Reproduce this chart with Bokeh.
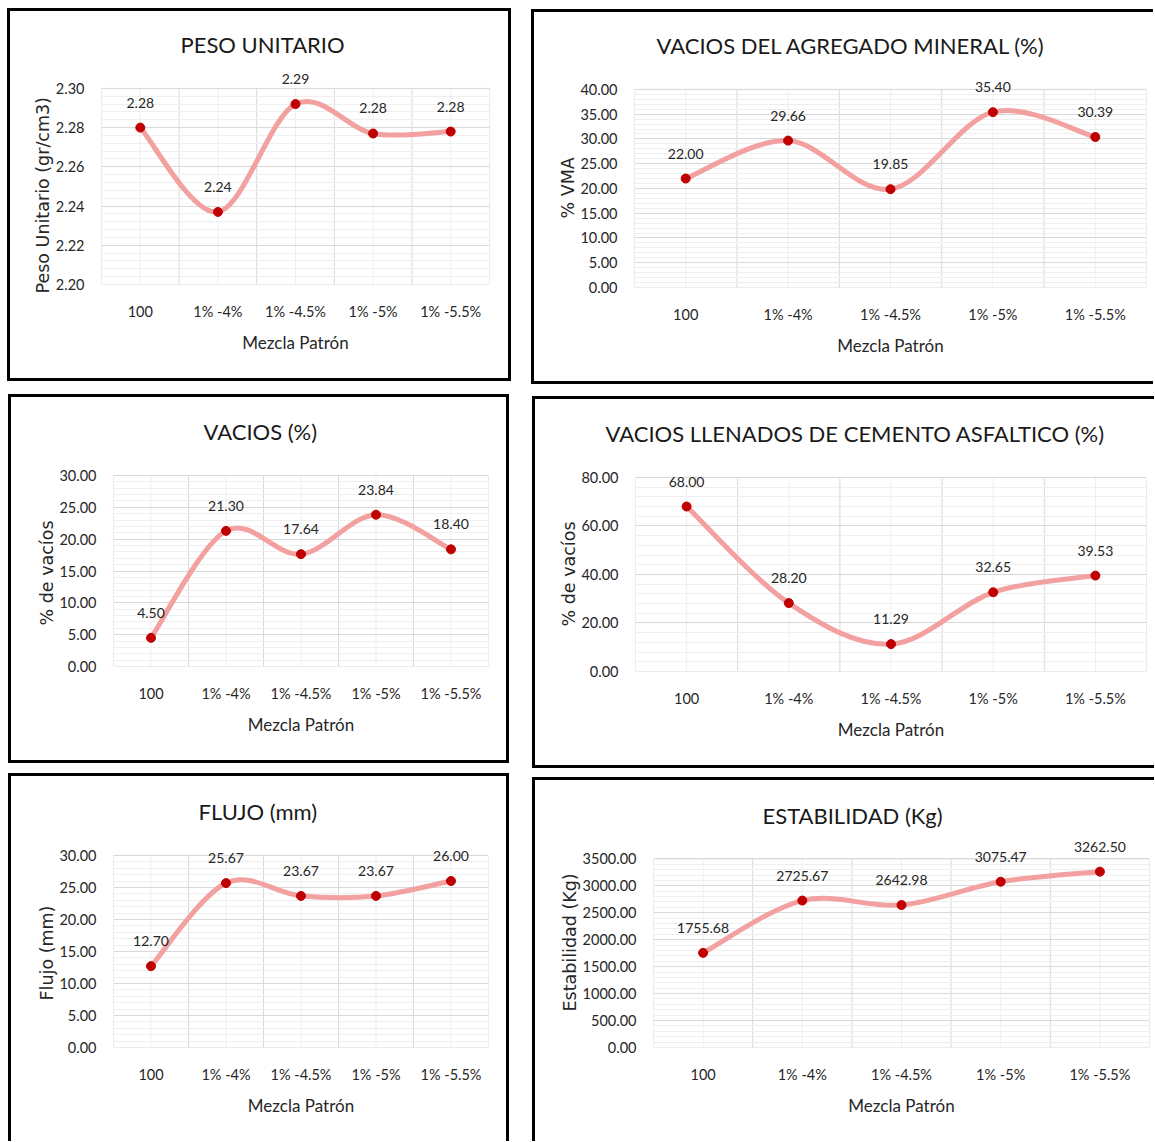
import numpy as np
from bokeh.plotting import figure
from bokeh.layouts import column, row
from bokeh.models import (Range1d, FixedTicker, PrintfTickFormatter, LabelSet,
                          ColumnDataSource, Title)
from bokeh.embed import file_html
from bokeh.resources import INLINE
from bokeh.core.properties import value

# ---------------- data ----------------
categories = ["100", "1% -4%", "1% -4.5%", "1% -5%", "1% -5.5%"]
x_label = "Mezcla Patrón"

titles = ["PESO UNITARIO", "VACIOS DEL AGREGADO MINERAL (%)", "VACIOS (%)",
          "VACIOS LLENADOS DE CEMENTO ASFALTICO (%)", "FLUJO (mm)", "ESTABILIDAD (Kg)"]
y_labels = ["Peso Unitario (gr/cm3)", "% VMA", "% de vacíos", "% de vacíos",
            "Flujo (mm)", "Estabilidad (Kg)"]

peso_unitario = [2.280, 2.237, 2.292, 2.277, 2.278]
vma = [22.00, 29.66, 19.85, 35.40, 30.39]
vacios = [4.50, 21.30, 17.64, 23.84, 18.40]
vfa = [68.00, 28.20, 11.29, 32.65, 39.53]
flujo = [12.70, 25.67, 23.67, 23.67, 26.00]
estabilidad = [1755.68, 2725.67, 2642.98, 3075.47, 3262.50]

y_min = [2.20, 0, 0, 0, 0, 0]
y_max = [2.30, 40, 30, 80, 30, 3500]
y_step = [0.02, 5, 5, 20, 5, 500]

series = [peso_unitario, vma, vacios, vfa, flujo, estabilidad]

# ---------------- style ----------------
NARROW = "Lato"
WIDE = "DejaVu Sans"
LINE_COLOR = "#F2A0A0"
MARK_COLOR = "#C00000"
TEXT_COLOR = "#262626"
GRID_MAJOR = "#D9D9D9"
GRID_MINOR = "#EFEFEF"
HEADROOM = 24   # px of free space above the plot area, so data labels can sit above it

# panel geometry: width, height, margin(top,right,bottom,left), plot-area borders (l, r, t, b),
# title offset from plot-area left, y-label offset from plot-area bottom, border sides
panels = [
    dict(w=504, h=373, m=(8, 0, 0, 7), b=(94, 22, 79, 97), off=79, yoff=-9, sides="ltrb"),
    dict(w=622, h=375, m=(9, 0, 0, 20), b=(103, 7, 80, 96), off=22, yoff=69, sides="ltb"),
    dict(w=501, h=369, m=(10, 0, 0, 8), b=(105, 21, 81, 97), off=90, yoff=41, sides="ltrb"),
    dict(w=622, h=372, m=(12, 0, 0, 23), b=(103, 8, 81, 96), off=-30, yoff=45, sides="ltb"),
    dict(w=501, h=368, m=(5, 0, 0, 8), b=(105, 21, 81, 94), off=85, yoff=47, sides="ltr"),
    dict(w=622, h=364, m=(9, 0, 0, 23), b=(121, 5, 82, 88), off=109, yoff=36, sides="lt"),
]


def bezier_controls(xs, ys):
    n = len(xs)
    out = {k: [] for k in ("x0", "y0", "x1", "y1", "cx0", "cy0", "cx1", "cy1")}
    for i in range(n - 1):
        xm, ym = (xs[i - 1], ys[i - 1]) if i > 0 else (xs[i], ys[i])
        xp, yp = (xs[i + 2], ys[i + 2]) if i + 2 < n else (xs[i + 1], ys[i + 1])
        out["x0"].append(xs[i]); out["y0"].append(ys[i])
        out["x1"].append(xs[i + 1]); out["y1"].append(ys[i + 1])
        out["cx0"].append(xs[i] + (xs[i + 1] - xm) / 6.0)
        out["cy0"].append(ys[i] + (ys[i + 1] - ym) / 6.0)
        out["cx1"].append(xs[i + 1] - (xp - xs[i]) / 6.0)
        out["cy1"].append(ys[i + 1] - (yp - ys[i]) / 6.0)
    return out


def shadow(sides):
    parts = []
    if "l" in sides: parts.append("inset 3px 0 0 0 #000")
    if "r" in sides: parts.append("inset -3px 0 0 0 #000")
    if "t" in sides: parts.append("inset 0 3px 0 0 #000")
    if "b" in sides: parts.append("inset 0 -3px 0 0 #000")
    return ", ".join(parts)


figs = []
for k in range(6):
    g = panels[k]
    vals = series[k]
    n = len(categories)
    xs = list(range(1, n + 1))
    lo, hi, st = y_min[k], y_max[k], y_step[k]
    nmaj = int(round((hi - lo) / st))
    major = [round(lo + i * st, 6) for i in range(nmaj + 1)]
    minor = [round(lo + i * st / 5.0, 6) for i in range(nmaj * 5 + 1)]

    bl, br, bt, bb = g["b"]
    area_h = g["h"] - bt - bb
    top_end = hi + (hi - lo) * HEADROOM / area_h

    p = figure(width=g["w"], height=g["h"], output_backend="svg", toolbar_location=None,
               x_range=Range1d(0.5, n + 0.5), y_range=Range1d(lo, top_end),
               min_border_left=bl, min_border_right=br,
               min_border_top=bt - HEADROOM, min_border_bottom=bb,
               title=titles[k])
    p.margin = g["m"]
    p.styles = {"box-shadow": shadow(g["sides"])}
    p.border_fill_color = None
    p.background_fill_color = None
    p.outline_line_color = None

    p.title.text_font = NARROW
    p.title.text_font_size = "22px"
    p.title.text_font_style = "normal"
    p.title.text_color = "#1A1A1A"
    p.title.align = "left"
    p.title.offset = g["off"]
    p.title.standoff = 14

    # axes
    xa = p.xaxis[0]
    xa.ticker = FixedTicker(ticks=xs)
    xa.major_label_overrides = {x: c for x, c in zip(xs, categories)}
    xa.axis_label = x_label
    ya = p.yaxis[0]
    ya.ticker = FixedTicker(ticks=major)
    ya.formatter = PrintfTickFormatter(format="%.2f")
    for ax in (xa, ya):
        ax.axis_line_color = None
        ax.major_tick_line_color = None
        ax.minor_tick_line_color = None
        ax.major_label_text_font = NARROW
        ax.major_label_text_font_size = "14.5px"
        ax.major_label_text_color = TEXT_COLOR
        ax.axis_label_text_font_style = "normal"
        ax.axis_label_text_color = TEXT_COLOR
    xa.major_label_standoff = 12
    xa.axis_label_text_font = NARROW
    xa.axis_label_text_font_size = "17px"
    xa.axis_label_standoff = 9
    ya.major_label_standoff = 11

    # vertical axis title, placed along the plot area like Excel does
    p.add_layout(Title(text=y_labels[k], align="left", offset=g["yoff"], standoff=0,
                       text_font=WIDE, text_font_size="17.5px", text_font_style="normal",
                       text_color=TEXT_COLOR), "left")

    # grids: horizontal from the library, vertical limited to the plot area
    p.xgrid.visible = False
    yg = p.ygrid[0]
    yg.ticker = FixedTicker(ticks=major, minor_ticks=minor)
    yg.grid_line_color = GRID_MAJOR
    yg.minor_grid_line_color = GRID_MINOR
    centers = xs
    bounds_x = [x + 0.5 for x in xs[:-1]]
    p.segment(x0=centers, x1=centers, y0=[lo] * n, y1=[hi] * n,
              line_color=GRID_MINOR, line_width=1, level="underlay")
    p.segment(x0=bounds_x, x1=bounds_x, y0=[lo] * len(bounds_x), y1=[hi] * len(bounds_x),
              line_color=GRID_MAJOR, line_width=1, level="underlay")
    p.quad(left=[0.5], right=[n + 0.5], bottom=[lo], top=[hi],
           fill_color=None, line_color=GRID_MAJOR, line_width=1, level="underlay")

    # smooth line (Excel-like smoothed line through the data points)
    bz = bezier_controls(xs, vals)
    p.bezier(x0=bz["x0"], y0=bz["y0"], x1=bz["x1"], y1=bz["y1"],
             cx0=bz["cx0"], cy0=bz["cy0"], cx1=bz["cx1"], cy1=bz["cy1"],
             line_color=LINE_COLOR, line_width=5, line_cap="round")
    p.scatter(xs, vals, size=9, fill_color=MARK_COLOR, line_color=MARK_COLOR)
    src = ColumnDataSource(dict(x=xs, y=vals, t=["%.2f" % v for v in vals]))
    p.add_layout(LabelSet(x="x", y="y", text="t", source=src, y_offset=25,
                          text_align="center", text_baseline="middle",
                          text_font=value(NARROW), text_font_size=value("14px"),
                          text_color=TEXT_COLOR))
    figs.append(p)

layout = column(row(figs[0], figs[1]), row(figs[2], figs[3]), row(figs[4], figs[5]))

open("out.html", "w").write(file_html(layout, INLINE))
